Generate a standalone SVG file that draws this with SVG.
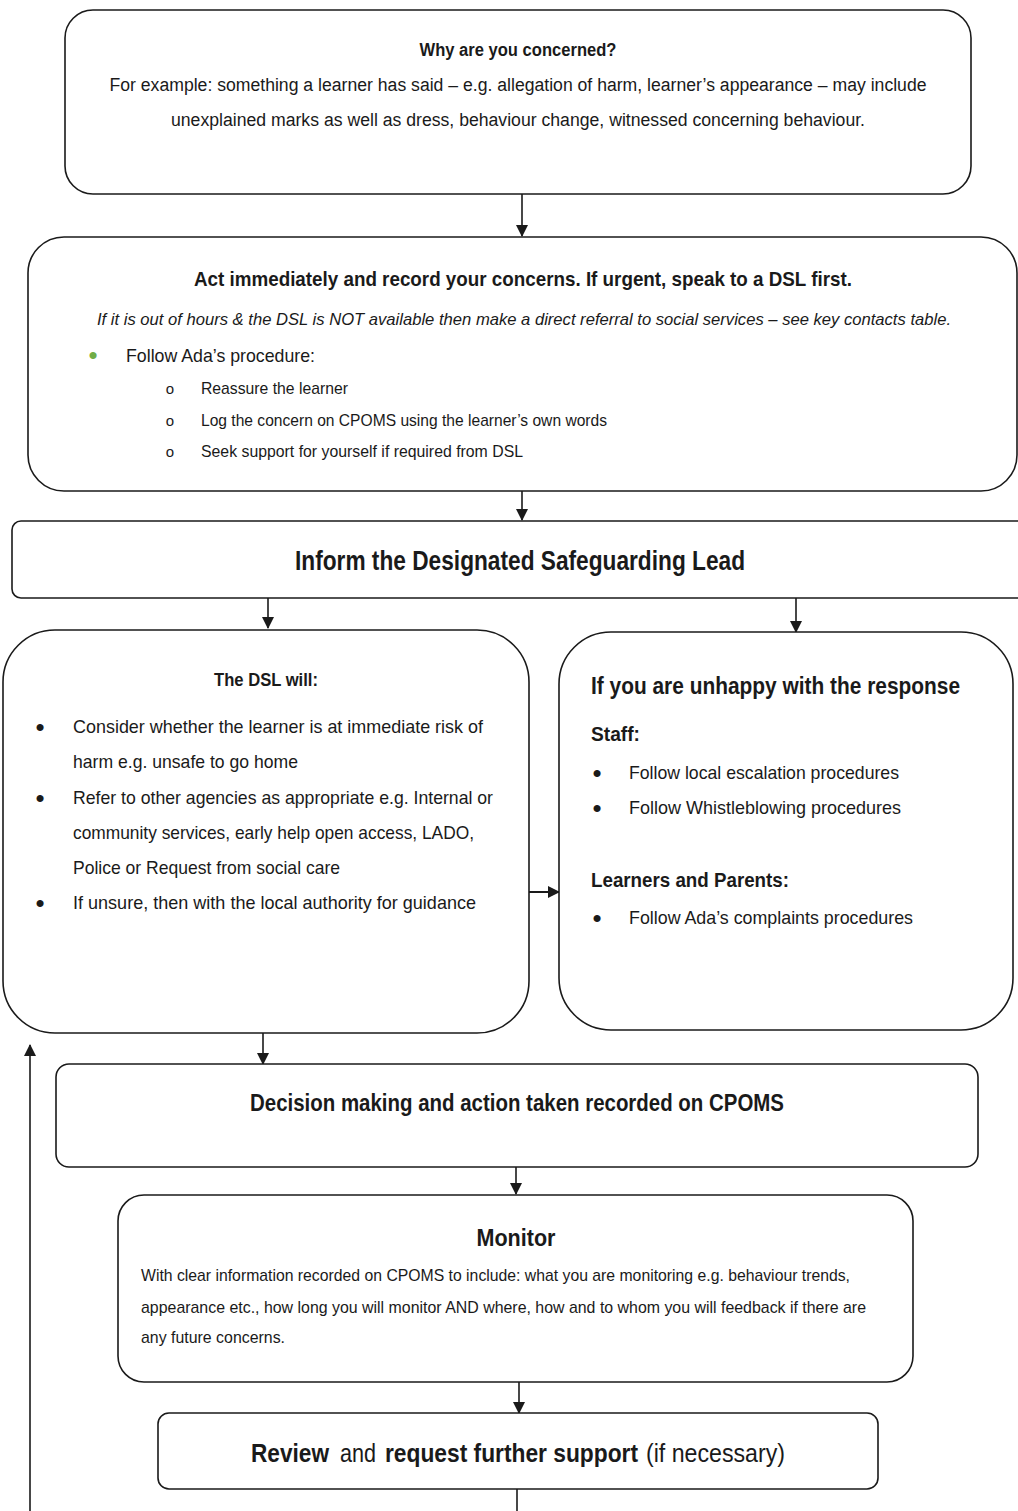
<svg xmlns="http://www.w3.org/2000/svg" width="1018" height="1511" viewBox="0 0 1018 1511">
<style>
.box{fill:#fff;stroke:#1a1a1a;stroke-width:1.6}
.t{font-family:"Liberation Sans","DejaVu Sans",sans-serif;fill:#1a1a1a}
.b{font-weight:bold}
.i{font-style:italic}
.bu{font-family:"Liberation Sans","DejaVu Sans",sans-serif;fill:#1a1a1a;font-size:26px;text-anchor:middle}
.c{stroke:#1a1a1a;stroke-width:1.6;fill:none}
</style>
<defs>
<marker id="ah" markerUnits="userSpaceOnUse" markerWidth="12" markerHeight="14" refX="11" refY="6" orient="auto">
<path d="M0,0 L12,6 L0,12 Z" fill="#1a1a1a"/>
</marker>
</defs>
<rect width="1018" height="1511" fill="#fff"/>

<g id="connectors">
<line class="c" x1="522" y1="194" x2="522" y2="236" marker-end="url(#ah)"/>
<line class="c" x1="522" y1="491" x2="522" y2="520" marker-end="url(#ah)"/>
<line class="c" x1="268" y1="598" x2="268" y2="628" marker-end="url(#ah)"/>
<line class="c" x1="796" y1="598" x2="796" y2="632" marker-end="url(#ah)"/>
<line class="c" x1="521" y1="892" x2="559" y2="892" marker-end="url(#ah)" style="stroke-width:2"/>
<line class="c" x1="263" y1="1033" x2="263" y2="1064" marker-end="url(#ah)"/>
<line class="c" x1="516" y1="1167" x2="516" y2="1194" marker-end="url(#ah)"/>
<line class="c" x1="519" y1="1382" x2="519" y2="1413" marker-end="url(#ah)"/>
<line class="c" x1="517" y1="1489" x2="517" y2="1511"/>
<line class="c" x1="30" y1="1511" x2="30" y2="1045" marker-end="url(#ah)"/>
</g>

<g id="node-why">
<rect class="box" x="65" y="10" width="906" height="184" rx="28"/>
<text class="t b" x="518" y="56" font-size="18" text-anchor="middle" textLength="197" lengthAdjust="spacingAndGlyphs">Why are you concerned?</text>
<text class="t" x="518" y="91" font-size="18" text-anchor="middle" textLength="817" lengthAdjust="spacingAndGlyphs">For example: something a learner has said – e.g. allegation of harm, learner’s appearance – may include</text>
<text class="t" x="518" y="126" font-size="18" text-anchor="middle" textLength="694" lengthAdjust="spacingAndGlyphs">unexplained marks as well as dress, behaviour change, witnessed concerning behaviour.</text>
</g>

<g id="node-act">
<rect class="box" x="28" y="237" width="989" height="254" rx="36"/>
<text class="t b" x="523" y="286" font-size="21" text-anchor="middle" textLength="658" lengthAdjust="spacingAndGlyphs">Act immediately and record your concerns. If urgent, speak to a DSL first.</text>
<text class="t i" x="524" y="325" font-size="17" text-anchor="middle" textLength="854" lengthAdjust="spacingAndGlyphs">If it is out of hours &amp; the DSL is NOT available then make a direct referral to social services – see key contacts table.</text>
<text class="bu" x="93" y="364" style="fill:#70ad47">•</text>
<text class="t" x="126" y="362" font-size="19" textLength="189" lengthAdjust="spacingAndGlyphs">Follow Ada’s procedure:</text>
<text class="t" x="170" y="394" font-size="15" text-anchor="middle">o</text>
<text class="t" x="201" y="394" font-size="17" textLength="147" lengthAdjust="spacingAndGlyphs">Reassure the learner</text>
<text class="t" x="170" y="426" font-size="15" text-anchor="middle">o</text>
<text class="t" x="201" y="426" font-size="17" textLength="406" lengthAdjust="spacingAndGlyphs">Log the concern on CPOMS using the learner’s own words</text>
<text class="t" x="170" y="457" font-size="15" text-anchor="middle">o</text>
<text class="t" x="201" y="457" font-size="17" textLength="322" lengthAdjust="spacingAndGlyphs">Seek support for yourself if required from DSL</text>
</g>

<g id="node-inform">
<rect class="box" x="12" y="521" width="1030" height="77" rx="9"/>
<text class="t b" x="520" y="570" font-size="27" text-anchor="middle" textLength="450" lengthAdjust="spacingAndGlyphs">Inform the Designated Safeguarding Lead</text>
</g>

<g id="node-dsl">
<rect class="box" x="3" y="630" width="526" height="403" rx="52"/>
<text class="t b" x="266" y="686" font-size="18" text-anchor="middle" textLength="104" lengthAdjust="spacingAndGlyphs">The DSL will:</text>
<text class="bu" x="40" y="736">•</text>
<text class="t" x="73" y="733" font-size="19" textLength="410" lengthAdjust="spacingAndGlyphs">Consider whether the learner is at immediate risk of</text>
<text class="t" x="73" y="768" font-size="19" textLength="225" lengthAdjust="spacingAndGlyphs">harm e.g. unsafe to go home</text>
<text class="bu" x="40" y="807">•</text>
<text class="t" x="73" y="804" font-size="19" textLength="420" lengthAdjust="spacingAndGlyphs">Refer to other agencies as appropriate e.g. Internal or</text>
<text class="t" x="73" y="839" font-size="19" textLength="401" lengthAdjust="spacingAndGlyphs">community services, early help open access, LADO,</text>
<text class="t" x="73" y="874" font-size="19" textLength="267" lengthAdjust="spacingAndGlyphs">Police or Request from social care</text>
<text class="bu" x="40" y="912">•</text>
<text class="t" x="73" y="909" font-size="19" textLength="403" lengthAdjust="spacingAndGlyphs">If unsure, then with the local authority for guidance</text>
</g>

<g id="node-unhappy">
<rect class="box" x="559" y="632" width="454" height="398" rx="52"/>
<text class="t b" x="591" y="694" font-size="23" textLength="369" lengthAdjust="spacingAndGlyphs">If you are unhappy with the response</text>
<text class="t b" x="591" y="741" font-size="20" textLength="49" lengthAdjust="spacingAndGlyphs">Staff:</text>
<text class="bu" x="597" y="782">•</text>
<text class="t" x="629" y="779" font-size="19" textLength="270" lengthAdjust="spacingAndGlyphs">Follow local escalation procedures</text>
<text class="bu" x="597" y="817">•</text>
<text class="t" x="629" y="814" font-size="19" textLength="272" lengthAdjust="spacingAndGlyphs">Follow Whistleblowing procedures</text>
<text class="t b" x="591" y="887" font-size="20" textLength="198" lengthAdjust="spacingAndGlyphs">Learners and Parents:</text>
<text class="bu" x="597" y="927">•</text>
<text class="t" x="629" y="924" font-size="19" textLength="284" lengthAdjust="spacingAndGlyphs">Follow Ada’s complaints procedures</text>
</g>

<g id="node-decision">
<rect class="box" x="56" y="1064" width="922" height="103" rx="13"/>
<text class="t b" x="517" y="1111" font-size="24" text-anchor="middle" textLength="534" lengthAdjust="spacingAndGlyphs">Decision making and action taken recorded on CPOMS</text>
</g>

<g id="node-monitor">
<rect class="box" x="118" y="1195" width="795" height="187" rx="26"/>
<text class="t b" x="516" y="1246" font-size="23" text-anchor="middle" textLength="79" lengthAdjust="spacingAndGlyphs">Monitor</text>
<text class="t" x="141" y="1281" font-size="17" textLength="709" lengthAdjust="spacingAndGlyphs">With clear information recorded on CPOMS to include: what you are monitoring e.g. behaviour trends,</text>
<text class="t" x="141" y="1313" font-size="17" textLength="725" lengthAdjust="spacingAndGlyphs">appearance etc., how long you will monitor AND where, how and to whom you will feedback if there are</text>
<text class="t" x="141" y="1343" font-size="17" textLength="144" lengthAdjust="spacingAndGlyphs">any future concerns.</text>
</g>

<g id="node-review">
<rect class="box" x="158" y="1413" width="720" height="76" rx="11"/>
<text class="t" y="1462" font-size="25"><tspan x="251" font-weight="bold" font-size="26" textLength="78" lengthAdjust="spacingAndGlyphs">Review</tspan><tspan x="340" textLength="36" lengthAdjust="spacingAndGlyphs">and</tspan><tspan x="385" font-weight="bold" textLength="253" lengthAdjust="spacingAndGlyphs">request further support</tspan><tspan x="646" textLength="139" lengthAdjust="spacingAndGlyphs">(if necessary)</tspan></text>
</g>
</svg>
